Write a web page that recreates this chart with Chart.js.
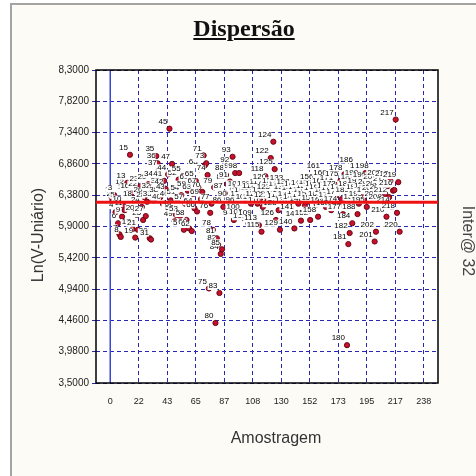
<!DOCTYPE html>
<html>
<head>
<meta charset="utf-8">
<script src="https://cdn.jsdelivr.net/npm/chart.js@4.4.0/dist/chart.umd.min.js"></script>
<style>
  body { margin: 0; background: #fff; }
  #wrap { position: relative; width: 476px; height: 476px; overflow: hidden; }
  #frame { position: absolute; left: 10px; top: 3px; right: 0; bottom: 0;
           border-left: 2px solid #a4a4a4; border-top: 2px solid #a4a4a4; background: #fdfbf6; }
  canvas { position: absolute; left: 0; top: 0; }
  .txt { position: absolute; text-align: center; white-space: nowrap; color: #333;
         font-family: "Liberation Sans", Arial, sans-serif; }
  #titulo { left: 144px; top: 15px; width: 200px; height: 30px; line-height: 30px;
            font: bold 24px "Liberation Serif", "Times New Roman", serif; text-decoration: underline; color: #111; }
  #tituloY { left: -22px; top: 225px; width: 120px; height: 20px; line-height: 20px; font-size: 16px;
             transform: rotate(-90deg); }
  #tituloX { left: 206px; top: 428px; width: 140px; height: 20px; line-height: 20px; font-size: 16px; }
  #lateral { left: 428px; top: 231px; width: 80px; height: 20px; line-height: 20px; font-size: 16px;
             transform: rotate(90deg); color: #444; }
</style>
</head>
<body>
<div id="wrap">
  <div id="frame"></div>
  <canvas id="grafico" width="476" height="476"></canvas>
  <div class="txt" id="titulo">Dispersão</div>
  <div class="txt" id="tituloY">Ln(V-Uniário)</div>
  <div class="txt" id="tituloX">Amostragem</div>
  <div class="txt" id="lateral">Inter@ 32</div>
</div>
<script>
// Sample numbers (x) and Ln(V-Unitário) values
const amostras = [
  1, 2, 3, 4, 5, 6, 7, 8, 9, 10, 11, 12, 13, 14, 15, 16, 17, 18, 19, 20,
  21, 22, 23, 24, 25, 26, 27, 28, 29, 30, 31, 32, 33, 34, 35, 36, 37, 38, 39, 40,
  41, 42, 43, 44, 45, 46, 47, 48, 49, 50, 51, 52, 53, 54, 55, 56, 57, 58, 59, 60,
  61, 62, 63, 64, 65, 66, 67, 68, 69, 70, 71, 72, 73, 74, 75, 76, 77, 78, 79, 80,
  81, 82, 83, 84, 85, 86, 87, 88, 89, 90, 91, 92, 93, 94, 95, 96, 97, 98, 99, 100,
  101, 102, 103, 104, 105, 106, 107, 108, 109, 110, 111, 112, 113, 114, 115, 116, 117, 118, 119, 120,
  121, 122, 123, 124, 125, 126, 127, 128, 129, 130, 131, 132, 133, 134, 135, 136, 137, 138, 139, 140,
  141, 142, 143, 144, 145, 146, 147, 148, 149, 150, 151, 152, 153, 154, 155, 156, 157, 158, 159, 160,
  161, 162, 163, 164, 165, 166, 167, 168, 169, 170, 171, 172, 173, 174, 175, 176, 177, 178, 179, 180,
  181, 182, 183, 184, 185, 186, 187, 188, 189, 190, 191, 192, 193, 194, 195, 196, 197, 198, 199, 200,
  201, 202, 203, 204, 205, 206, 207, 208, 209, 210, 211, 212, 213, 214, 215, 216, 217, 218, 219, 220
];
const lnValores = [
  6.35, 6.30, 6.38, 6.12, 6.28, 5.95, 5.78, 5.74, 6.05, 6.22,
  6.15, 6.48, 6.57, 6.40, 7.00, 6.41, 5.86, 6.30, 5.73, 6.08,
  5.85, 6.45, 6.52, 6.20, 6.00, 6.35, 6.06, 6.28, 6.55, 5.72,
  5.70, 6.42, 6.30, 6.60, 6.98, 6.87, 6.77, 6.35, 6.50, 6.25,
  6.60, 6.48, 6.40, 6.70, 7.40, 6.30, 6.86, 6.15, 5.98, 6.08,
  6.32, 6.62, 6.06, 6.38, 6.67, 5.85, 6.25, 6.00, 6.45, 5.87,
  6.55, 5.83, 6.40, 6.18, 6.60, 6.13, 6.50, 6.78, 6.32, 6.43,
  6.99, 6.84, 6.87, 6.69, 4.95, 6.11, 6.25, 5.85, 6.50, 4.42,
  5.72, 5.62, 4.88, 5.48, 5.55, 6.20, 6.41, 6.69, 6.55, 6.30,
  6.59, 6.82, 6.97, 6.00, 6.72, 6.20, 6.45, 6.72, 6.35, 6.10,
  6.45, 6.02, 6.30, 6.40, 5.95, 6.35, 6.25, 6.45, 6.00, 6.38,
  6.42, 6.25, 5.92, 6.30, 5.82, 6.20, 6.48, 6.67, 6.35, 6.55,
  6.28, 6.95, 6.40, 7.20, 6.78, 6.00, 6.50, 6.15, 5.85, 6.30,
  6.26, 6.45, 6.54, 6.28, 6.35, 6.40, 6.20, 6.48, 6.30, 5.87,
  6.10, 6.38, 6.25, 6.45, 5.99, 6.32, 6.40, 6.22, 6.46, 6.28,
  6.35, 6.00, 6.42, 6.30, 6.48, 6.56, 6.24, 6.05, 6.38, 6.45,
  6.72, 6.30, 6.40, 6.20, 6.50, 6.62, 6.35, 6.15, 6.42, 6.28,
  6.54, 6.38, 6.45, 6.22, 6.60, 6.32, 6.09, 6.70, 6.40, 4.08,
  5.63, 5.80, 6.35, 5.95, 6.45, 6.82, 6.55, 6.09, 6.25, 6.62,
  6.40, 6.50, 6.30, 6.72, 6.20, 6.58, 6.42, 6.72, 6.35, 6.48,
  5.67, 5.82, 6.38, 6.55, 6.30, 6.45, 6.62, 6.25, 6.40, 6.05,
  6.52, 6.35, 6.60, 6.20, 6.45, 6.46, 7.54, 6.11, 6.58, 5.82
];
const mediaLn = 6.27;

// Axis ticks
const xTicks = [0, 21.67, 43.33, 65, 86.67, 108.33, 130, 151.67, 173.33, 195, 216.67, 238.33];
const xTickLabels = ['0', '22', '43', '65', '87', '108', '130', '152', '173', '195', '217', '238'];
const yTicks = [3.5, 3.98, 4.46, 4.94, 5.42, 5.9, 6.38, 6.86, 7.34, 7.82, 8.3];
const yTickLabels = ['3,5000', '3,9800', '4,4600', '4,9400', '5,4200', '5,9000',
                     '6,3800', '6,8600', '7,3400', '7,8200', '8,3000'];

const gridBlue = '#2828b4';

// White plot area, solid zero line and black box
const moldura = {
  id: 'moldura',
  beforeDraw(chart) {
    const { ctx, chartArea: a } = chart;
    ctx.save();
    ctx.fillStyle = '#fff';
    ctx.fillRect(a.left, a.top, a.right - a.left, a.bottom - a.top);
    ctx.restore();
  },
  beforeDatasetsDraw(chart) {
    const { ctx, chartArea: a } = chart;
    const x0 = chart.scales.x.getPixelForValue(0);
    ctx.save();
    ctx.strokeStyle = '#3a48d0';
    ctx.lineWidth = 1.5;
    ctx.beginPath();
    ctx.moveTo(x0, a.top);
    ctx.lineTo(x0, a.bottom);
    ctx.stroke();
    ctx.strokeStyle = '#000';
    ctx.lineWidth = 1.5;
    ctx.strokeRect(a.left, a.top, a.right - a.left, a.bottom - a.top);
    ctx.restore();
  }
};

// Sample number beside each point (on a white box), then the red mean line
const rotulos = {
  id: 'rotulos',
  afterDatasetsDraw(chart) {
    const { ctx, chartArea: a } = chart;
    const meta = chart.getDatasetMeta(0);
    ctx.save();
    ctx.font = '8px "Liberation Sans", Arial, sans-serif';
    ctx.textAlign = 'right';
    ctx.textBaseline = 'bottom';
    meta.data.forEach((pt, i) => {
      const txt = String(amostras[i]);
      const w = ctx.measureText(txt).width;
      ctx.fillStyle = '#fff';
      ctx.fillRect(pt.x - 3 - w, pt.y - 10, w + 1, 7);
      ctx.fillStyle = '#000';
      ctx.fillText(txt, pt.x - 2, pt.y - 3);
    });
    const y = chart.scales.y.getPixelForValue(mediaLn);
    ctx.strokeStyle = '#ee1111';
    ctx.lineWidth = 3;
    ctx.beginPath();
    ctx.moveTo(a.left, y);
    ctx.lineTo(a.right, y);
    ctx.stroke();
    ctx.restore();
  }
};

new Chart(document.getElementById('grafico'), {
  type: 'scatter',
  data: {
    datasets: [{
      label: 'Dispersão',
      data: amostras.map((a, i) => ({ x: a, y: lnValores[i] })),
      pointStyle: 'circle',
      pointRadius: 2.6,
      pointBackgroundColor: '#c8102e',
      pointBorderColor: '#6a0a14',
      pointBorderWidth: 1
    }]
  },
  options: {
    responsive: false,
    devicePixelRatio: 1,
    animation: false,
    layout: { padding: { left: 0, top: 70, right: 38, bottom: 0 } },
    plugins: { legend: { display: false }, tooltip: { enabled: false } },
    scales: {
      x: {
        type: 'linear',
        min: -10.83,
        max: 249.17,
        afterBuildTicks: s => { s.ticks = xTicks.map(v => ({ value: v })); },
        afterFit: s => { s.height = 93; },
        ticks: {
          autoSkip: false,
          maxRotation: 0,
          padding: 13,
          color: '#222',
          font: { family: '"Liberation Sans", Arial', size: 9 },
          callback: (v, i) => xTickLabels[i]
        },
        grid: { color: gridBlue, lineWidth: 1, drawTicks: false },
        border: { display: false, dash: [4, 3] }
      },
      y: {
        min: 3.5,
        max: 8.3,
        afterBuildTicks: s => { s.ticks = yTicks.map(v => ({ value: v })); },
        afterFit: s => { s.width = 96; },
        ticks: {
          autoSkip: false,
          padding: 3,
          color: '#222',
          font: { family: '"Liberation Sans", Arial', size: 10 },
          callback: (v, i) => yTickLabels[i]
        },
        grid: { color: gridBlue, lineWidth: 1, tickLength: 4 },
        border: { display: false, dash: [4, 3] }
      }
    }
  },
  plugins: [moldura, rotulos]
});
</script>
</body>
</html>
